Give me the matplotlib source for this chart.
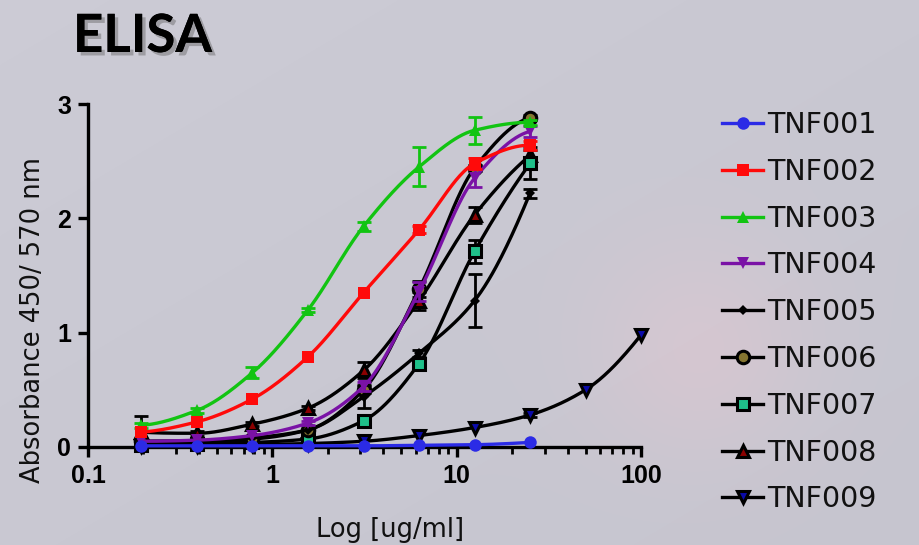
import numpy as np
import matplotlib
matplotlib.use('Agg')
import matplotlib.pyplot as plt
from matplotlib.lines import Line2D
from matplotlib.ticker import LogLocator, NullFormatter, FixedLocator
import matplotlib.patheffects as pe

# ---------------- data ----------------
conc = [0.195, 0.39, 0.78, 1.5625, 3.125, 6.25, 12.5, 25]
conc_009 = [0.195, 0.39, 0.78, 1.5625, 3.125, 6.25, 12.5, 25, 50, 100]

names = ["TNF001", "TNF002", "TNF003", "TNF004", "TNF005",
         "TNF006", "TNF007", "TNF008", "TNF009"]

tnf001 = [0.01, 0.01, 0.01, 0.01, 0.01, 0.015, 0.02, 0.04]
tnf002 = [0.13, 0.22, 0.42, 0.79, 1.35, 1.90, 2.48, 2.64]
tnf003 = [0.19, 0.32, 0.65, 1.20, 1.93, 2.45, 2.77, 2.84]
tnf004 = [0.05, 0.06, 0.10, 0.21, 0.53, 1.36, 2.35, 2.76]
tnf005 = [0.05, 0.05, 0.08, 0.15, 0.44, 0.82, 1.28, 2.22]
tnf006 = [0.05, 0.05, 0.07, 0.15, 0.50, 1.38, 2.44, 2.88]
tnf007 = [0.02, 0.03, 0.04, 0.07, 0.23, 0.73, 1.71, 2.48]
tnf008 = [0.13, 0.12, 0.20, 0.34, 0.67, 1.28, 2.03, 2.55]
tnf009 = [0.01, 0.01, 0.02, 0.03, 0.05, 0.10, 0.17, 0.28, 0.50, 0.98]

err001 = [0, 0, 0, 0, 0, 0, 0, 0]
err002 = [0, 0, 0, 0, 0, 0.03, 0.05, 0.04]
err003 = [0.02, 0.02, 0.05, 0.02, 0.04, 0.17, 0.12, 0.02]
err004 = [0, 0, 0, 0.02, 0.04, 0.08, 0.08, 0.05]
err005 = [0, 0, 0, 0, 0.10, 0.03, 0.23, 0.04]
err006 = [0, 0, 0, 0, 0.03, 0.07, 0.03, 0.02]
err007 = [0, 0, 0, 0, 0.02, 0.03, 0.10, 0.14]
err008 = [0.14, 0.02, 0.02, 0.02, 0.07, 0.08, 0.07, 0.05]
err009 = [0, 0, 0, 0, 0, 0, 0, 0.02, 0, 0]

values = [tnf001, tnf002, tnf003, tnf004, tnf005, tnf006, tnf007, tnf008, tnf009]
errors = [err001, err002, err003, err004, err005, err006, err007, err008, err009]
xvals = [conc] * 8 + [conc_009]

# ---------------- styles ----------------
line_colors = ["#2b2be6", "#ff0a0a", "#12c412", "#7a12a6", "#000000",
               "#000000", "#000000", "#000000", "#000000"]
face_colors = ["#2b2be6", "#ff0a0a", "#12c412", "#7a12a6", "#000000",
               "#857530", "#1fc08a", "#8b0000", "#0a0aa8"]
edge_colors = ["#2b2be6", "#ff0a0a", "#12c412", "#7a12a6", "#000000",
               "#000000", "#000000", "#000000", "#000000"]
markers = ["o", "s", "^", "v", "D", "o", "s", "^", "v"]
msizes = [9, 9, 9, 9, 5, 9, 8.5, 9, 9]
medge = [0, 0, 0, 0, 0, 2.2, 2.2, 2.2, 2.2]


def pchip(x, y, xn):
    x = np.asarray(x, float)
    y = np.asarray(y, float)
    h = np.diff(x)
    d = np.diff(y) / h
    n = len(x)
    m = np.zeros(n)
    for k in range(1, n - 1):
        if d[k - 1] * d[k] > 0:
            w1 = 2 * h[k] + h[k - 1]
            w2 = h[k] + 2 * h[k - 1]
            m[k] = (w1 + w2) / (w1 / d[k - 1] + w2 / d[k])
    def endslope(h0, h1, d0, d1):
        s = ((2 * h0 + h1) * d0 - h0 * d1) / (h0 + h1)
        if np.sign(s) != np.sign(d0):
            s = 0.0
        elif np.sign(d0) != np.sign(d1) and abs(s) > abs(3 * d0):
            s = 3 * d0
        return s
    m[0] = endslope(h[0], h[1], d[0], d[1])
    m[-1] = endslope(h[-1], h[-2], d[-1], d[-2])
    idx = np.clip(np.searchsorted(x, xn) - 1, 0, n - 2)
    t = (xn - x[idx]) / h[idx]
    h00 = 2 * t**3 - 3 * t**2 + 1
    h10 = t**3 - 2 * t**2 + t
    h01 = -2 * t**3 + 3 * t**2
    h11 = t**3 - t**2
    return (h00 * y[idx] + h10 * h[idx] * m[idx]
            + h01 * y[idx + 1] + h11 * h[idx] * m[idx + 1])


bg = "#c6c5cf"
fig = plt.figure(figsize=(9.2, 5.45), dpi=100, facecolor=bg)

# soft background shading (lighter top-left, faint pink glow right-middle)
bax = fig.add_axes([0, 0, 1, 1], zorder=-10)
bax.axis('off')
W, H = 920, 545
gx, gy = np.meshgrid(np.arange(W), np.arange(H))
base = np.array([198, 197, 207], float) / 255
img = np.ones((H, W, 3)) * base
shade = 0.025 * (1 - (gx / W + gy / H) / 2)[..., None]
img = img + shade
glow = np.exp(-(((gx - 700) / 110.0) ** 2 + ((gy - 350) / 110.0) ** 2))[..., None]
img = img + glow * np.array([0.05, 0.0, 0.0])
bax.imshow(np.clip(img, 0, 1), extent=[0, 1, 0, 1], aspect='auto', origin='upper')

ax = fig.add_axes([88 / 920, 1 - 447 / 545, (641 - 88) / 920, (447 - 104) / 545])
ax.set_facecolor("none")

order = list(range(9))[::-1]
for z, i in enumerate(order):
    xs = np.asarray(xvals[i], float)
    ys = np.asarray(values[i], float)
    lx = np.log10(xs)
    xn = np.linspace(lx[0], lx[-1], 300)
    yn = pchip(lx, ys, xn)
    ax.plot(10 ** xn, yn, color=line_colors[i], lw=2.4, zorder=3 + z * 0.1,
            clip_on=False, solid_capstyle='round')
    e = np.asarray(errors[i], float)
    ax.errorbar(xs, ys, yerr=np.where(e > 0, e, np.nan), fmt='none',
                ecolor=line_colors[i], elinewidth=2.0, capsize=5, capthick=2.0,
                zorder=3 + z * 0.1 + 0.05, clip_on=False)
    ax.plot(xs, ys, linestyle='none', marker=markers[i], ms=msizes[i],
            mfc=face_colors[i], mec=edge_colors[i], mew=medge[i],
            zorder=3 + z * 0.1 + 0.06, clip_on=False)

ax.set_xscale('log')
ax.set_xlim(0.1, 100)
ax.set_ylim(0, 3)

for s in ['top', 'right']:
    ax.spines[s].set_visible(False)
for s in ['left', 'bottom']:
    ax.spines[s].set_linewidth(2.4)
    ax.spines[s].set_color('black')

ax.xaxis.set_major_locator(FixedLocator([0.1, 1, 10, 100]))
ax.xaxis.set_minor_locator(LogLocator(base=10, subs=np.arange(2, 10)))
ax.xaxis.set_minor_formatter(NullFormatter())
ax.set_xticks([0.1, 1, 10, 100])
ax.set_xticklabels(["0.1", "1", "10", "100"])
ax.set_yticks([0, 1, 2, 3])
ax.set_yticklabels(["0", "1", "2", "3"])
ax.tick_params(axis='both', which='major', direction='out', length=7, width=2.4,
               labelsize=18, pad=5)
ax.tick_params(axis='x', which='minor', direction='out', length=5, width=2.0)
for lab in ax.get_xticklabels() + ax.get_yticklabels():
    lab.set_fontweight('bold')
    lab.set_fontfamily('Liberation Sans')

fig.text(33 / 920, 1 - 320 / 545, "Absorbance 450/ 570 nm", rotation=90,
         ha='center', va='center', fontsize=18.5, family='DejaVu Sans',
         color='#111111')
fig.text(390 / 920, 1 - 543 / 545, "Log [ug/ml]", ha='center', va='bottom',
         fontsize=18.5, family='DejaVu Sans', color='#111111')

fig.text(73 / 920, 1 - 12 / 545, "ELISA", ha='left', va='top', fontsize=38,
         fontweight='bold', family='Lato', color='black',
         path_effects=[pe.withSimplePatchShadow(offset=(2.5, -2.5), shadow_rgbFace='#666666', alpha=0.45),
                       pe.Normal()])

handles = []
for i in range(9):
    handles.append(Line2D([0], [0], color=line_colors[i], lw=2.4,
                          marker=markers[i], ms=msizes[i], mfc=face_colors[i],
                          mec=edge_colors[i], mew=medge[i]))
leg = fig.legend(handles, names, loc='upper left',
                 bbox_to_anchor=(722 / 920, 1 - 111 / 545),
                 bbox_transform=fig.transFigure, frameon=False,
                 handlelength=1.45, handletextpad=0.15,
                 labelspacing=0.66, borderpad=0, borderaxespad=0,
                 prop={'family': 'DejaVu Sans', 'size': 20.5})
for t in leg.get_texts():
    t.set_color('#111111')

fig.savefig("out.png", dpi=100, facecolor=bg)
